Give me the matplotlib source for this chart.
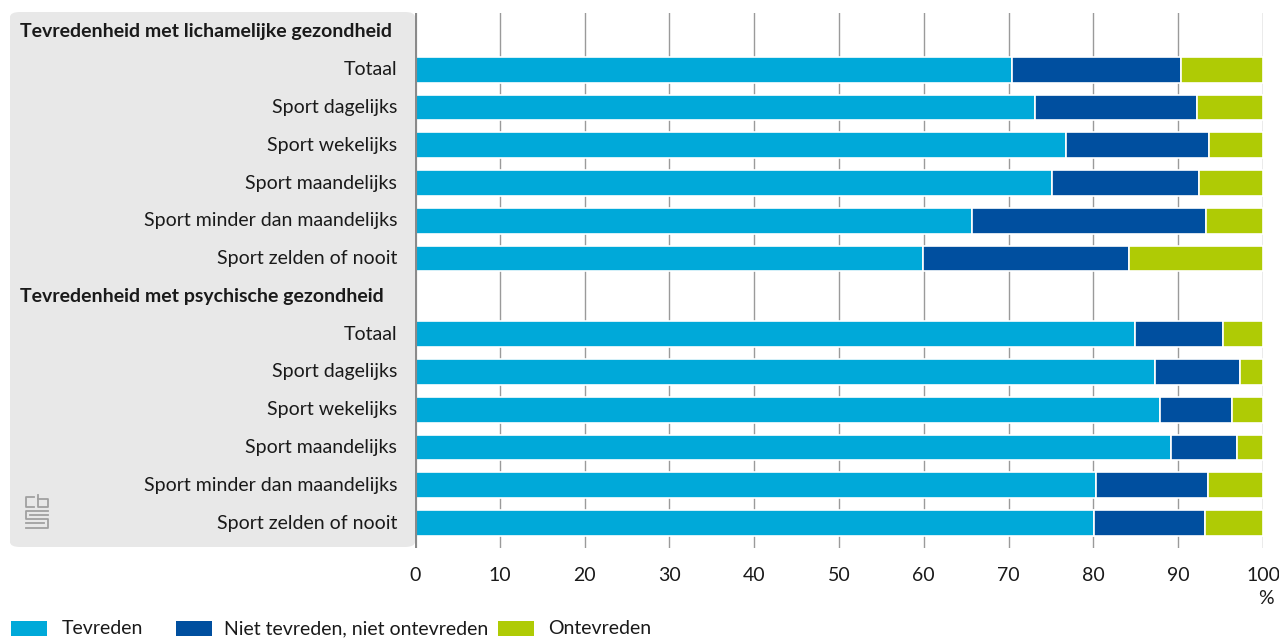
import matplotlib.pyplot as plt
from matplotlib.patches import FancyBboxPatch, Rectangle
from matplotlib.lines import Line2D
import numpy as np

plt.rcParams['font.family'] = ['Lato', 'DejaVu Sans']

# data
headers = ['Tevredenheid met lichamelijke gezondheid',
           'Tevredenheid met psychische gezondheid']
categories = ['Totaal', 'Sport dagelijks', 'Sport wekelijks', 'Sport maandelijks',
              'Sport minder dan maandelijks', 'Sport zelden of nooit']

tevreden_lich = [70.4, 73.1, 76.8, 75.1, 65.7, 59.9]
niet_lich = [19.9, 19.1, 16.8, 17.4, 27.6, 24.3]
ontevreden_lich = [9.7, 7.8, 6.4, 7.5, 6.7, 15.8]

tevreden_psych = [84.9, 87.3, 87.9, 89.2, 80.3, 80.1]
niet_psych = [10.4, 10.0, 8.4, 7.7, 13.2, 13.1]
ontevreden_psych = [4.7, 2.7, 3.7, 3.1, 6.5, 6.8]

series_names = ['Tevreden', 'Niet tevreden, niet ontevreden', 'Ontevreden']
colors = ['#00a9d9', '#004f9f', '#afcb05']
xticks = [0, 10, 20, 30, 40, 50, 60, 70, 80, 90, 100]

W, H = 1279, 639
FS = 14
fig = plt.figure(figsize=(W / 100, H / 100), dpi=100)

# grey label panel on the left
panel = FancyBboxPatch((10 / W, 1 - 547 / H), 405 / W, 535 / H,
                       boxstyle='round,pad=0,rounding_size=0.008',
                       transform=fig.transFigure, facecolor='#e8e8e8',
                       edgecolor='none', zorder=0)
fig.patches.append(panel)

ax = fig.add_axes([415 / W, 1 - 547.6 / H, 848 / W, (547.6 - 13.1) / H])
ax.set_facecolor('none')

# rows: header, 6 categories, header, 6 categories
rows_lich = np.arange(1, 7)
rows_psych = np.arange(8, 14)

for rows, vals in [(rows_lich, [tevreden_lich, niet_lich, ontevreden_lich]),
                   (rows_psych, [tevreden_psych, niet_psych, ontevreden_psych])]:
    left = np.zeros(len(rows))
    for v, c in zip(vals, colors):
        ax.barh(rows, v, left=left, height=0.68, color=c,
                edgecolor='white', linewidth=1.2, zorder=3)
        left = left + np.array(v)

ax.set_xlim(0, 100)
ax.set_ylim(13.65, -0.5)

for x in xticks[1:]:
    ax.axvline(x, color='#9a9a9a', lw=1, zorder=1)
ax.axvline(0, color='#8a8a8a', lw=3, zorder=4)

for s in ax.spines.values():
    s.set_visible(False)
ax.set_yticks([])
ax.set_xticks(xticks)
ax.set_xticklabels([str(t) for t in xticks])
ax.tick_params(axis='x', length=0, pad=14, labelsize=FS, colors='#1a1a1a')

# labels in the panel
label_x = 397 / W
for i, h in enumerate(headers):
    r = 0 if i == 0 else 7
    y = ax.transData.transform((0, r))[1] / H
    fig.text(20 / W, y, h, ha='left', va='center', fontsize=FS,
             fontweight='bold', color='#1a1a1a')
for rows in [rows_lich, rows_psych]:
    for r, cat in zip(rows, categories):
        y = ax.transData.transform((0, r))[1] / H
        fig.text(label_x, y, cat, ha='right', va='center', fontsize=FS,
                 color='#1a1a1a')

fig.text(1266 / W, 1 - 598 / H, '%', ha='center', va='center', fontsize=FS,
         color='#1a1a1a')

# legend
patch_x = [11, 176, 498]
text_x = [62, 224, 548]
for x0, xt, name, c in zip(patch_x, text_x, series_names, colors):
    fig.patches.append(Rectangle((x0 / W, 1 - 636 / H), 36 / W, 15 / H,
                                 transform=fig.transFigure, facecolor=c,
                                 edgecolor='none'))
    fig.text(xt / W, 1 - 629 / H, name, ha='left', va='center',
             fontsize=FS, color='#1a1a1a')

# rough cbs logo
logo = [
    [(34, 497), (26, 497), (26, 507), (34, 507)],
    [(38, 495), (38, 507), (48, 507), (48, 499), (38, 499)],
    [(48, 511), (26, 511), (26, 519), (48, 519), (48, 528), (26, 528)],
    [(30, 515), (48, 515)],
    [(26, 523), (44, 523)],
]
for pts in logo:
    xs = [p[0] / W for p in pts]
    ys = [1 - p[1] / H for p in pts]
    fig.lines.append(Line2D(xs, ys, transform=fig.transFigure,
                            color='#a0a0a0', lw=1.3))

fig.savefig('out.png', dpi=100)
